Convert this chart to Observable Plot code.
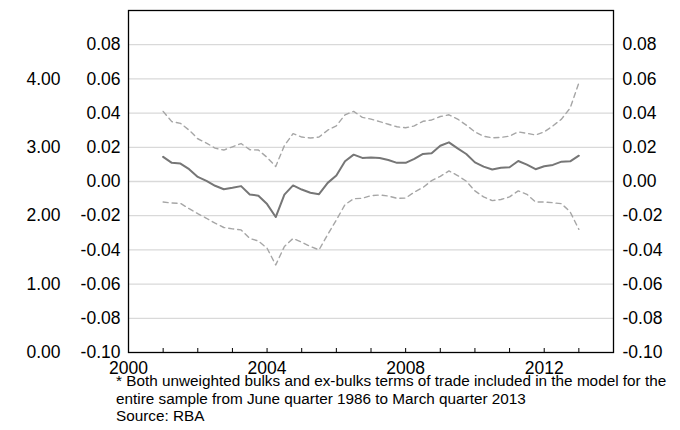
<!DOCTYPE html>
<html>
<head>
<meta charset="utf-8">
<script src="https://cdn.jsdelivr.net/npm/d3@7"></script>
<script src="https://cdn.jsdelivr.net/npm/@observablehq/plot@0.6"></script>
<style>
  body { margin: 0; background: #fff; font-family: "Liberation Sans", Arial, sans-serif; }
  #chart { width: 680px; height: 372px; }
  #chart svg { overflow: visible; }
  .note { font-size: 15.3px; line-height: 17.5px; color: #000; padding-left: 116px; margin: 0; white-space: nowrap; }
</style>
</head>
<body>
<div id="chart"></div>
<div class="note">* Both unweighted bulks and ex-bulks terms of trade included in the model for the<br>entire sample from June quarter 1986 to March quarter 2013<br>Source: RBA</div>
<script>
// Quarterly observations, March quarter 2001 to March quarter 2013
const quarters = d3.range(0, 49).map(i => 2001 + i / 4);

const central = [0.0144, 0.0109, 0.0105, 0.0072, 0.0027, 0.0004, -0.0025, -0.0045, -0.0037, -0.0027,
  -0.0076, -0.0083, -0.0132, -0.0208, -0.0077, -0.0023, -0.0047, -0.0066, -0.0074, -0.0008,
  0.0035, 0.0118, 0.0157, 0.0138, 0.0140, 0.0138, 0.0126, 0.0109, 0.0109, 0.0132,
  0.0161, 0.0165, 0.0209, 0.0229, 0.0194, 0.0161, 0.0112, 0.0087, 0.0070, 0.0080,
  0.0083, 0.0120, 0.0099, 0.0072, 0.0089, 0.0097, 0.0116, 0.0118, 0.0151];

const upper = [0.0410, 0.0350, 0.0340, 0.0300, 0.0250, 0.0225, 0.0195, 0.0184, 0.0203, 0.0222,
  0.0186, 0.0184, 0.0141, 0.0088, 0.0210, 0.0280, 0.0260, 0.0254, 0.0260, 0.0300,
  0.0326, 0.0390, 0.0410, 0.0375, 0.0365, 0.0350, 0.0335, 0.0320, 0.0314, 0.0325,
  0.0352, 0.0360, 0.0380, 0.0390, 0.0365, 0.0330, 0.0290, 0.0265, 0.0255, 0.0258,
  0.0265, 0.0290, 0.0282, 0.0272, 0.0290, 0.0325, 0.0365, 0.0430, 0.0577];

const lower = [-0.0120, -0.0126, -0.0128, -0.0159, -0.0188, -0.0215, -0.0244, -0.0269, -0.0277, -0.0283,
  -0.0333, -0.0348, -0.0390, -0.0488, -0.0380, -0.0333, -0.0355, -0.0380, -0.0400, -0.0310,
  -0.0225, -0.0135, -0.0101, -0.0098, -0.0083, -0.0079, -0.0085, -0.0098, -0.0097, -0.0062,
  -0.0035, 0.0005, 0.0030, 0.0062, 0.0035, 0.0002, -0.0055, -0.0090, -0.0112, -0.0105,
  -0.0090, -0.0055, -0.0075, -0.0120, -0.0120, -0.0124, -0.0130, -0.0178, -0.0280];

const innerTicks = [-0.10, -0.08, -0.06, -0.04, -0.02, 0.00, 0.02, 0.04, 0.06, 0.08];
const gridTicks = [-0.08, -0.06, -0.04, -0.02, 0.00, 0.02, 0.04, 0.06, 0.08];
const outerTicks = [0, 1, 2, 3, 4];            // secondary left scale 0..5 over -0.10..0.10
const yearTicks = d3.range(2000, 2015);
const yearLabels = [2000, 2004, 2008, 2012];

const rows = quarters.map((q, i) => ({q, central: central[i], upper: upper[i], lower: lower[i]}));
const outerToInner = v => -0.10 + v * 0.04;
const fmt = d => d.toFixed(2);

const chart = Plot.plot({
  width: 680,
  height: 372,
  marginLeft: 128,
  marginRight: 67,
  marginTop: 10,
  marginBottom: 20,
  style: {fontSize: "17.5px", fontFamily: "'Liberation Sans', Arial, sans-serif", color: "#000", background: "#fff", overflow: "visible"},
  x: {domain: [2000, 2014], label: null},
  y: {domain: [-0.10, 0.10], label: null},
  marks: [
    Plot.gridY(gridTicks, {stroke: "#d9d9d9", strokeOpacity: 1, strokeWidth: 1.3}),
    Plot.line(rows, {x: "q", y: "upper", stroke: "#a6a6a6", strokeWidth: 1.4, strokeDasharray: "5,4"}),
    Plot.line(rows, {x: "q", y: "lower", stroke: "#a6a6a6", strokeWidth: 1.4, strokeDasharray: "5,4"}),
    Plot.line(rows, {x: "q", y: "central", stroke: "#767676", strokeWidth: 2}),
    Plot.frame({stroke: "#000", strokeWidth: 1.3}),
    Plot.axisX(yearTicks, {tickSize: -4, tickFormat: () => "", stroke: "#000", label: null}),
    Plot.axisX(yearLabels, {tickSize: 0, tickPadding: 9, tickFormat: d => String(d), label: null}),
    Plot.axisY(innerTicks, {anchor: "left", tickSize: 0, tickPadding: 8, tickFormat: fmt, label: null}),
    Plot.axisY(innerTicks, {anchor: "right", tickSize: 0, tickPadding: 9, tickFormat: fmt, label: null}),
    Plot.axisY(outerTicks.map(outerToInner), {anchor: "left", tickSize: 0, tickPadding: 68, label: null,
      tickFormat: d => fmt(Math.round((d + 0.10) / 0.04))})
  ]
});
document.getElementById("chart").appendChild(chart);
</script>
</body>
</html>
